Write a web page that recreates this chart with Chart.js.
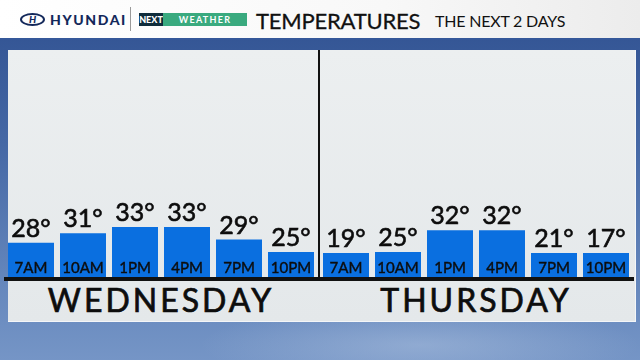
<!DOCTYPE html>
<html>
<head>
<meta charset="utf-8">
<script src="https://cdn.jsdelivr.net/npm/chart.js@4/dist/chart.umd.min.js"></script>
<style>
  html, body { margin: 0; padding: 0; }
  body {
    width: 640px; height: 360px; position: relative; overflow: hidden;
    font-family: Lato, 'Open Sans', sans-serif;
    background:
      radial-gradient(ellipse 220px 40px at 420px 345px, rgba(200, 215, 235, 0.35), rgba(200, 215, 235, 0)),
      linear-gradient(180deg, #2f5090 0%, #4568a5 40%, #6688bd 80%, #7595c6 100%);
  }
  .header {
    position: absolute; left: 0; top: 0; width: 640px; height: 38px;
    background: linear-gradient(90deg, #ffffff 0%, #f8f8f8 60%, #ececec 100%);
    border-bottom: 2px solid #35589a;
  }
  .logo {
    position: absolute; left: 20px; top: 13px; width: 25px; height: 13px;
    border: 2px solid #13285a; border-radius: 50%; box-sizing: border-box;
    color: #13285a; font: italic 900 10px Lato; text-align: center; line-height: 9px;
  }
  .brand {
    position: absolute; left: 50px; top: 11px; color: #13285a;
    font: 900 14px Lato; letter-spacing: 1.6px;
  }
  .sep { position: absolute; left: 130px; top: 7px; width: 1px; height: 24px; background: #9a9a9a; }
  .next {
    position: absolute; left: 139px; top: 13px; width: 24px; height: 13px; background: #0f2c3b;
    color: #fff; font: 900 9px Lato; line-height: 13px; text-align: center;
  }
  .wx {
    position: absolute; left: 163px; top: 13px; width: 84px; height: 13px; background: #3aaa7f;
    color: #fff; font: 700 9px Lato; line-height: 13px; text-align: center; letter-spacing: 1.3px;
  }
  .title {
    position: absolute; left: 256px; top: 7px; font-size: 22px; color: #111;
    letter-spacing: -0.2px; -webkit-text-stroke: 0.3px #111;
  }
  .sub { position: absolute; left: 435px; top: 11px; font-size: 16px; color: #111; letter-spacing: -0.2px; }
  .panel {
    position: absolute; left: 8px; top: 50px; width: 627px; height: 271px;
    background: linear-gradient(180deg, #eceff0 0%, #e4e8ea 100%);
    border-right: 1px solid #f4f6f8; border-bottom: 1px solid #f4f6f8;
  }
  .divider { position: absolute; left: 318px; top: 50px; width: 2px; height: 229px; background: #111; }
  .baseline { position: absolute; left: 4px; top: 277px; width: 630px; height: 4px; background: #111; }
  canvas { position: absolute; top: 50px; }
  .day {
    position: absolute; top: 280px; width: 312px; text-align: center;
    font-size: 32px; letter-spacing: 3px; color: #0d0d0d; -webkit-text-stroke: 0.7px #0d0d0d;
  }
</style>
</head>
<body>
<div class="header">
  <div class="logo">H</div>
  <div class="brand">HYUNDAI</div>
  <div class="sep"></div>
  <div class="next">NEXT</div>
  <div class="wx">WEATHER</div>
  <div class="title">TEMPERATURES</div>
  <div class="sub">THE NEXT 2 DAYS</div>
</div>
<div class="panel"></div>
<canvas id="wed" width="312" height="227" style="left:5px"></canvas>
<canvas id="thu" width="312" height="227" style="left:320px"></canvas>
<div class="divider"></div>
<div class="baseline"></div>
<div class="day" style="left:5px">WEDNESDAY</div>
<div class="day" style="left:320px">THURSDAY</div>

<script>
const times = ['7AM', '10AM', '1PM', '4PM', '7PM', '10PM'];
const wednesday_temps = [28, 31, 33, 33, 29, 25];
const thursday_temps = [19, 25, 32, 32, 21, 17];
const y_min = 17;
const y_max = 89.7;

// temperature above each bar, time inside it
const bar_labels = {
  id: 'bar_labels',
  afterDatasetsDraw (chart) {
    const ctx = chart.ctx;
    const meta = chart.getDatasetMeta(0);
    const values = chart.data.datasets[0].data;
    const bottom = chart.chartArea.bottom;
    ctx.save();
    ctx.textAlign = 'center';
    ctx.textBaseline = 'alphabetic';
    ctx.fillStyle = '#0d0d0d';
    ctx.strokeStyle = '#0d0d0d';
    meta.data.forEach((bar, i) => {
      ctx.font = '25px Lato';
      ctx.lineWidth = 0.6;
      ctx.fillText(values[i] + '°', bar.x, bar.y - 6);
      ctx.strokeText(values[i] + '°', bar.x, bar.y - 6);
      ctx.font = '15px Lato';
      ctx.lineWidth = 0.4;
      ctx.fillText(chart.data.labels[i], bar.x, bottom - 4);
      ctx.strokeText(chart.data.labels[i], bar.x, bottom - 4);
    });
    ctx.restore();
  }
};

function make_chart (id, temps) {
  const ctx = document.getElementById(id).getContext('2d');
  return new Chart(ctx, {
    type: 'bar',
    data: {
      labels: times,
      datasets: [{
        data: temps,
        base: y_min,
        backgroundColor: '#0a6fe0',
        borderWidth: 0,
        barPercentage: 46 / 52,
        categoryPercentage: 1,
        minBarLength: 24
      }]
    },
    options: {
      responsive: false,
      animation: false,
      devicePixelRatio: 1,
      layout: { padding: 0 },
      plugins: {
        legend: { display: false },
        tooltip: { enabled: false }
      },
      scales: {
        x: { display: false },
        y: { display: false, min: y_min, max: y_max }
      }
    },
    plugins: [bar_labels]
  });
}

make_chart('wed', wednesday_temps);
make_chart('thu', thursday_temps);
</script>
</body>
</html>
